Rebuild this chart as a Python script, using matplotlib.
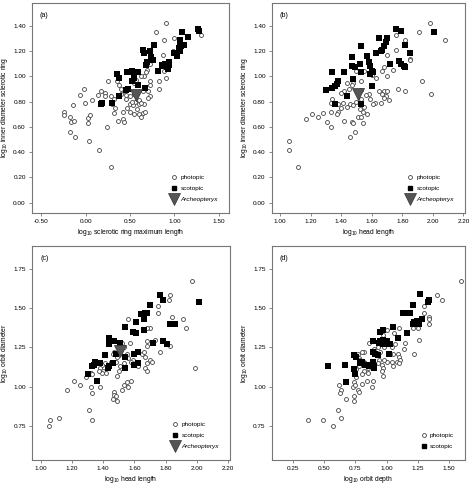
import numpy as np
import matplotlib
matplotlib.use("Agg")
import matplotlib.pyplot as plt
from matplotlib.lines import Line2D

plt.rcParams["font.family"] = ["Liberation Sans", "DejaVu Sans"]
plt.rcParams["mathtext.fontset"] = "custom"
plt.rcParams["mathtext.rm"] = "Liberation Sans"
plt.rcParams["mathtext.it"] = "Liberation Sans:italic"

# ---- panel (a): log10 sclerotic ring max length vs inner diameter
a_photo = np.array([
    (0.91, 1.42), (0.79, 1.35), (1.00, 1.30), (0.88, 1.29), (1.30, 1.33),
    (0.99, 1.20), (0.87, 1.17), (0.72, 1.10), (0.69, 1.05), (0.68, 1.03),
    (0.66, 1.00), (0.88, 1.04), (0.89, 1.07), (0.85, 1.10), (0.91, 0.99),
    (0.83, 0.96), (0.83, 0.90), (0.72, 0.96), (0.72, 0.93), (0.70, 0.88),
    (0.72, 0.84), (0.62, 1.00), (0.57, 0.97), (0.55, 0.95), (0.25, 0.96),
    (0.35, 0.96), (0.38, 0.93), (0.40, 0.90), (0.17, 0.88), (0.14, 0.85),
    (0.22, 0.87), (0.22, 0.84), (0.28, 0.84), (-0.02, 0.90), (-0.06, 0.85),
    (0.07, 0.81), (-0.01, 0.79), (-0.24, 0.72), (-0.24, 0.69), (-0.18, 0.68),
    (-0.17, 0.64), (-0.13, 0.65), (-0.14, 0.77), (0.03, 0.67), (0.05, 0.69),
    (0.03, 0.63), (-0.18, 0.56), (-0.12, 0.52), (0.04, 0.49), (0.24, 0.60),
    (0.15, 0.42), (0.28, 0.28), (0.32, 0.71), (0.36, 0.65), (0.42, 0.72),
    (0.42, 0.66), (0.43, 0.64), (0.50, 0.72), (0.55, 0.70), (0.60, 0.70),
    (0.62, 0.68), (0.65, 0.71), (0.67, 0.72), (0.66, 0.78), (0.60, 0.78),
    (0.56, 0.80), (0.50, 0.78), (0.47, 0.75), (0.45, 0.82), (0.32, 0.82),
    (0.30, 0.78), (0.33, 0.75), (0.50, 0.84), (0.55, 0.86), (0.60, 0.81),
    (0.62, 0.79), (0.65, 0.88), (0.70, 0.83), (0.40, 0.86), (0.44, 0.88),
    (0.46, 0.85), (0.53, 0.77), (0.58, 0.74), (0.52, 0.80),
])
a_scoto = np.array([
    (1.27, 1.37), (1.28, 1.36), (1.09, 1.35), (1.15, 1.31), (1.06, 1.29),
    (1.06, 1.27), (1.07, 1.24), (1.11, 1.25), (1.05, 1.22), (1.06, 1.20),
    (0.77, 1.25), (0.72, 1.20), (0.65, 1.21), (0.66, 1.18), (0.74, 1.15),
    (0.76, 1.13), (0.69, 1.11), (0.68, 1.09), (1.00, 1.18), (1.03, 1.16),
    (0.94, 1.11), (0.94, 1.09), (0.90, 1.10), (0.86, 1.09), (0.92, 1.07),
    (0.93, 1.06), (0.88, 1.08), (0.82, 1.04), (0.47, 1.03), (0.49, 1.03),
    (0.52, 1.04), (0.55, 1.03), (0.57, 1.03), (0.59, 1.03), (0.35, 1.02),
    (0.38, 0.99), (0.52, 0.96), (0.55, 0.99), (0.59, 0.93), (0.48, 0.90),
    (0.46, 0.89), (0.38, 0.84), (0.67, 0.91), (0.30, 0.79), (0.17, 0.78),
    (0.18, 0.79),
])
a_arch = (0.57, 0.85)

# ---- panel (b): log10 head length vs inner diameter
b_photo = np.array([
    (1.98, 1.42), (1.91, 1.35), (2.08, 1.29), (1.82, 1.29), (1.76, 1.33),
    (1.76, 1.21), (1.70, 1.17), (1.85, 1.14), (1.85, 1.13), (1.68, 1.07),
    (1.67, 1.04), (1.74, 1.05), (1.63, 0.99), (1.70, 1.00), (1.60, 1.01),
    (1.55, 1.04), (1.50, 1.04), (1.93, 0.96), (1.99, 0.86), (1.82, 0.88),
    (1.77, 0.90), (1.68, 0.88), (1.70, 0.88), (1.67, 0.86), (1.65, 0.88),
    (1.69, 0.84), (1.68, 0.83), (1.71, 0.81), (1.66, 0.79), (1.62, 0.79),
    (1.61, 0.78), (1.58, 0.86), (1.56, 0.85), (1.59, 0.82), (1.53, 0.82),
    (1.53, 0.89), (1.53, 0.96), (1.48, 0.95), (1.47, 0.93), (1.45, 0.90),
    (1.44, 0.95), (1.42, 0.88), (1.40, 0.87), (1.43, 0.85), (1.41, 0.79),
    (1.38, 0.78), (1.40, 0.75), (1.38, 0.72), (1.37, 0.70), (1.44, 0.76),
    (1.46, 0.78), (1.48, 0.77), (1.50, 0.80), (1.52, 0.74), (1.54, 0.72),
    (1.55, 0.76), (1.57, 0.70), (1.34, 0.82), (1.33, 0.79), (1.33, 0.72),
    (1.31, 0.64), (1.33, 0.60), (1.28, 0.71), (1.25, 0.68), (1.21, 0.70),
    (1.17, 0.66), (1.42, 0.65), (1.47, 0.64), (1.48, 0.63), (1.51, 0.68),
    (1.53, 0.68), (1.54, 0.63), (1.46, 0.52), (1.49, 0.56), (1.06, 0.49),
    (1.06, 0.42), (1.12, 0.28),
])
b_scoto = np.array([
    (1.76, 1.37), (1.79, 1.36), (2.01, 1.35), (1.65, 1.30), (1.70, 1.30),
    (1.69, 1.27), (1.68, 1.24), (1.67, 1.21), (1.66, 1.20), (1.53, 1.24),
    (1.47, 1.15), (1.63, 1.18), (1.57, 1.16), (1.82, 1.25), (1.85, 1.18),
    (1.78, 1.12), (1.79, 1.10), (1.72, 1.10), (1.81, 1.08), (1.82, 1.07),
    (1.58, 1.11), (1.59, 1.08), (1.52, 1.10), (1.47, 1.08), (1.49, 1.07),
    (1.60, 1.04), (1.61, 1.03), (1.59, 1.02), (1.53, 1.03), (1.42, 1.03),
    (1.34, 1.03), (1.38, 0.96), (1.37, 0.94), (1.36, 0.92), (1.34, 0.91),
    (1.30, 0.89), (1.48, 0.98), (1.60, 0.92), (1.44, 0.84), (1.36, 0.78),
    (1.53, 0.78),
])
b_arch = (1.51, 0.86)

# ---- panel (c): log10 head length vs orbit diameter
c_photo = np.array([
    (1.97, 1.67), (1.83, 1.58), (1.82, 1.55), (1.75, 1.51), (1.75, 1.47),
    (1.91, 1.43), (1.93, 1.37), (1.84, 1.44), (1.70, 1.37), (1.68, 1.37),
    (1.73, 1.30), (1.76, 1.22), (1.83, 1.26), (1.68, 1.29), (1.68, 1.26),
    (1.99, 1.12), (1.56, 1.43), (1.57, 1.28), (1.53, 1.25), (1.52, 1.28),
    (1.65, 1.21), (1.66, 1.22), (1.67, 1.19), (1.68, 1.15), (1.70, 1.17),
    (1.71, 1.16), (1.67, 1.12), (1.68, 1.10), (1.61, 1.14), (1.62, 1.13),
    (1.59, 1.17), (1.58, 1.16), (1.47, 1.22), (1.46, 1.21), (1.49, 1.19),
    (1.48, 1.16), (1.45, 1.16), (1.43, 1.13), (1.41, 1.15), (1.39, 1.14),
    (1.38, 1.12), (1.40, 1.10), (1.39, 1.09), (1.37, 1.10), (1.42, 1.09),
    (1.51, 1.13), (1.53, 1.15), (1.55, 1.21), (1.56, 1.18), (1.32, 1.09),
    (1.33, 1.08), (1.29, 1.06), (1.32, 1.00), (1.38, 1.00), (1.33, 0.96),
    (1.25, 1.01), (1.21, 1.04), (1.17, 0.98), (1.47, 0.97), (1.47, 0.95),
    (1.48, 0.94), (1.49, 0.91), (1.46, 0.92), (1.52, 0.98), (1.53, 1.01),
    (1.55, 1.03), (1.56, 1.00), (1.58, 1.04), (1.49, 1.07), (1.50, 1.10),
    (1.31, 0.85), (1.33, 0.79), (1.12, 0.80), (1.06, 0.79), (1.05, 0.75),
])
c_scoto = np.array([
    (1.76, 1.58), (1.78, 1.55), (2.01, 1.54), (1.70, 1.52), (1.67, 1.47),
    (1.68, 1.47), (1.64, 1.46), (1.66, 1.43), (1.61, 1.41), (1.54, 1.38),
    (1.83, 1.40), (1.84, 1.40), (1.86, 1.40), (1.66, 1.36), (1.59, 1.35),
    (1.61, 1.34), (1.78, 1.29), (1.81, 1.27), (1.72, 1.28), (1.44, 1.31),
    (1.47, 1.29), (1.44, 1.27), (1.51, 1.28), (1.62, 1.22), (1.60, 1.21),
    (1.48, 1.21), (1.54, 1.19), (1.62, 1.15), (1.60, 1.14), (1.41, 1.20),
    (1.43, 1.12), (1.44, 1.13), (1.36, 1.15), (1.38, 1.15), (1.34, 1.14),
    (1.33, 1.13), (1.35, 1.16), (1.30, 1.08), (1.36, 1.04), (1.54, 1.12),
    (1.46, 1.15),
])
c_arch = (1.51, 1.23)

# ---- panel (d): log10 orbit depth vs orbit diameter
d_photo = np.array([
    (1.59, 1.67), (1.40, 1.58), (1.44, 1.55), (1.30, 1.51), (1.30, 1.47),
    (1.34, 1.44), (1.34, 1.43), (1.34, 1.40), (1.25, 1.37), (1.21, 1.37),
    (1.26, 1.30), (1.22, 1.21), (1.10, 1.37), (1.06, 1.34), (1.00, 1.36),
    (0.97, 1.33), (0.86, 1.28), (0.90, 1.24), (0.93, 1.25), (0.98, 1.25),
    (1.04, 1.25), (1.07, 1.27), (1.15, 1.28), (1.14, 1.24), (1.09, 1.21),
    (1.05, 1.21), (1.03, 1.21), (1.10, 1.19), (1.11, 1.17), (1.08, 1.16),
    (1.04, 1.16), (1.00, 1.16), (0.98, 1.17), (1.05, 1.13), (1.10, 1.15),
    (0.95, 1.22), (0.94, 1.17), (0.96, 1.14), (0.97, 1.12), (0.96, 1.10),
    (0.97, 1.07), (0.93, 1.15), (0.90, 1.15), (0.88, 1.16), (0.82, 1.22),
    (0.80, 1.22), (0.77, 1.21), (0.78, 1.18), (0.79, 1.17), (0.82, 1.16),
    (0.83, 1.15), (0.85, 1.12), (0.85, 1.09), (0.82, 1.10), (0.80, 1.08),
    (0.78, 1.13), (0.76, 1.11), (0.76, 1.06), (0.74, 1.03), (0.73, 1.00),
    (0.75, 1.01), (0.77, 0.98), (0.78, 0.97), (0.84, 1.04), (0.80, 1.02),
    (0.89, 1.04), (0.88, 1.00), (0.62, 1.01), (0.64, 0.98), (0.63, 0.96),
    (0.68, 0.92), (0.74, 0.94), (0.74, 0.91), (0.61, 0.85), (0.64, 0.80),
    (0.57, 0.75), (0.49, 0.79), (0.37, 0.79),
])
d_scoto = np.array([
    (1.27, 1.59), (1.34, 1.55), (1.33, 1.54), (1.21, 1.52), (1.15, 1.47),
    (1.13, 1.47), (1.19, 1.47), (1.28, 1.43), (1.24, 1.42), (1.22, 1.41),
    (1.21, 1.40), (1.26, 1.40), (1.05, 1.38), (0.97, 1.36), (0.95, 1.35),
    (1.16, 1.34), (1.09, 1.31), (0.89, 1.29), (0.95, 1.29), (0.97, 1.30),
    (0.98, 1.28), (1.00, 1.29), (1.01, 1.27), (0.97, 1.27), (1.03, 1.27),
    (0.94, 1.28), (1.02, 1.21), (0.89, 1.22), (0.91, 1.21), (0.93, 1.20),
    (0.74, 1.20), (0.76, 1.19), (0.80, 1.16), (0.79, 1.15), (0.83, 1.14),
    (0.85, 1.14), (0.86, 1.13), (0.89, 1.16), (0.90, 1.13), (0.90, 1.12),
    (0.74, 1.11), (0.75, 1.08), (0.68, 1.03), (0.67, 1.14), (0.53, 1.13),
])

FS = 4.6
SPINE = "#777777"


def draw_panel(ax, photo, scoto, arch, label, xlabel, ylabel,
               xlim, ylim, xticks, yticks):
    ax.scatter(photo[:, 0], photo[:, 1], s=8, facecolors="white",
               edgecolors="#444444", linewidths=0.6, zorder=2)
    ax.scatter(scoto[:, 0], scoto[:, 1], s=13, marker="s", color="black",
               linewidths=0, zorder=3)
    handles = [
        Line2D([], [], ls="", marker="o", ms=2.8, mfc="white",
               mec="#444444", mew=0.6),
        Line2D([], [], ls="", marker="s", ms=3.4, mfc="black", mec="black"),
    ]
    names = ["photopic", "scotopic"]
    if arch is not None:
        ax.scatter([arch[0]], [arch[1]], s=75, marker="v", color="#555555",
                   edgecolors="#333333", linewidths=0.5, zorder=4)
        handles.append(Line2D([], [], ls="", marker="v", ms=8,
                              mfc="#555555", mec="#333333", mew=0.5))
        names.append("Archeopteryx")
    leg = ax.legend(handles, names, loc="lower right", frameon=False,
                    fontsize=FS, handletextpad=0.2, labelspacing=0.85,
                    borderaxespad=1.3, handlelength=1.6)
    if arch is not None:
        leg.get_texts()[2].set_style("italic")

    ax.set_xlim(*xlim)
    ax.set_ylim(*ylim)
    ax.set_xticks(xticks)
    ax.set_yticks(yticks)
    ax.set_xticklabels(["{:.2f}".format(v) for v in xticks])
    ax.set_yticklabels(["{:.2f}".format(v) for v in yticks])
    ax.tick_params(labelsize=FS, length=2.5, width=0.6, color=SPINE, pad=2)
    for sp in ax.spines.values():
        sp.set_color(SPINE)
        sp.set_linewidth(0.8)
    ax.set_xlabel(xlabel, fontsize=FS + 0.3, labelpad=2)
    ax.set_ylabel(ylabel, fontsize=FS + 0.3, labelpad=2.5)
    ax.text(0.04, 0.955, label, transform=ax.transAxes, fontsize=FS + 0.5,
            va="top", ha="left")


fig = plt.figure(figsize=(4.72, 4.84), dpi=100)

ax_a = fig.add_axes([0.068, 0.560, 0.417, 0.434])
ax_b = fig.add_axes([0.576, 0.560, 0.409, 0.434])
ax_c = fig.add_axes([0.068, 0.050, 0.419, 0.442])
ax_d = fig.add_axes([0.576, 0.050, 0.409, 0.442])

ytick_ring = [0.0, 0.2, 0.4, 0.6, 0.8, 1.0, 1.2, 1.4]
ytick_orbit = [0.75, 1.0, 1.25, 1.5, 1.75]
xtick_head = [1.0, 1.2, 1.4, 1.6, 1.8, 2.0, 2.2]

draw_panel(ax_a, a_photo, a_scoto, a_arch, "(a)",
           "log$_{10}$ sclerotic ring maximum length",
           "log$_{10}$ inner diameter sclerotic ring",
           (-0.605, 1.616), (-0.081, 1.58),
           [-0.5, 0.0, 0.5, 1.0, 1.5], ytick_ring)
draw_panel(ax_b, b_photo, b_scoto, b_arch, "(b)",
           "log$_{10}$ head length",
           "log$_{10}$ inner diameter sclerotic ring",
           (0.946, 2.21), (-0.081, 1.58),
           xtick_head, ytick_ring)
draw_panel(ax_c, c_photo, c_scoto, c_arch, "(c)",
           "log$_{10}$ head length", "log$_{10}$ orbit diameter",
           (0.945, 2.21), (0.537, 1.894),
           xtick_head, ytick_orbit)
draw_panel(ax_d, d_photo, d_scoto, None, "(d)",
           "log$_{10}$ orbit depth", "log$_{10}$ orbit diameter",
           (0.085, 1.625), (0.537, 1.894),
           [0.25, 0.5, 0.75, 1.0, 1.25, 1.5], ytick_orbit)

fig.savefig("out.png", dpi=100)
